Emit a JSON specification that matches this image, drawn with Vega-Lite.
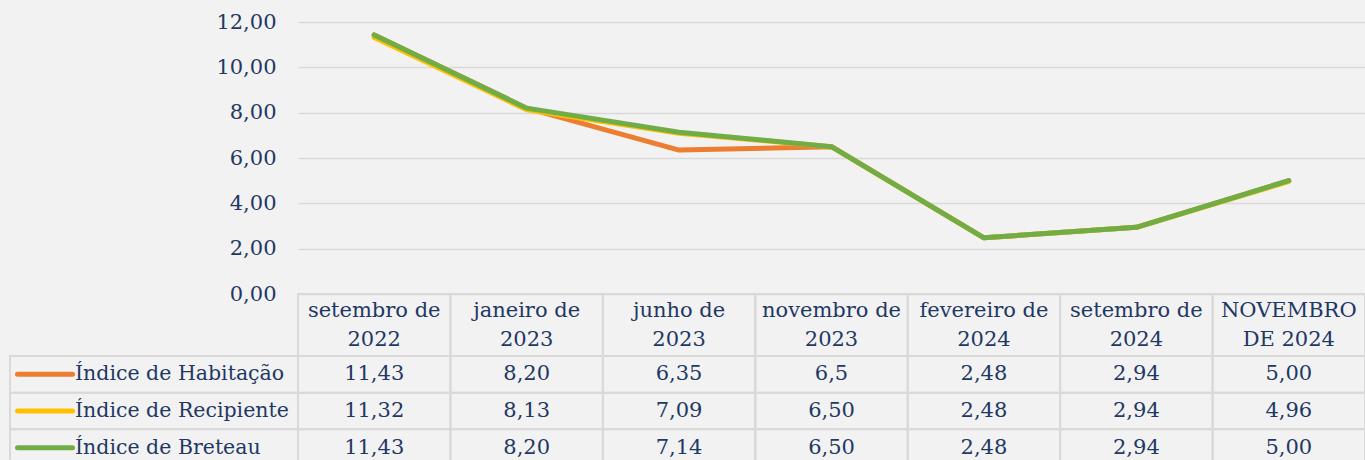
{
  "$schema": "https://vega.github.io/schema/vega-lite/v6.json",
  "background": "#F2F2F2",
  "padding": {"left": 7, "top": 11, "right": 0, "bottom": 0},
  "config": {"view": {"stroke": null}, "font": "DejaVu Serif"},
  "datasets": {
    "rows": [
      {"month": "setembro de\n2022", "series": "Índice de Habitação", "value": 11.43, "label": "11,43"},
      {"month": "janeiro de\n2023", "series": "Índice de Habitação", "value": 8.20, "label": "8,20"},
      {"month": "junho de\n2023", "series": "Índice de Habitação", "value": 6.35, "label": "6,35"},
      {"month": "novembro de\n2023", "series": "Índice de Habitação", "value": 6.5, "label": "6,5"},
      {"month": "fevereiro de\n2024", "series": "Índice de Habitação", "value": 2.48, "label": "2,48"},
      {"month": "setembro de\n2024", "series": "Índice de Habitação", "value": 2.94, "label": "2,94"},
      {"month": "NOVEMBRO\nDE 2024", "series": "Índice de Habitação", "value": 5.00, "label": "5,00"},
      {"month": "setembro de\n2022", "series": "Índice de Recipiente", "value": 11.32, "label": "11,32"},
      {"month": "janeiro de\n2023", "series": "Índice de Recipiente", "value": 8.13, "label": "8,13"},
      {"month": "junho de\n2023", "series": "Índice de Recipiente", "value": 7.09, "label": "7,09"},
      {"month": "novembro de\n2023", "series": "Índice de Recipiente", "value": 6.50, "label": "6,50"},
      {"month": "fevereiro de\n2024", "series": "Índice de Recipiente", "value": 2.48, "label": "2,48"},
      {"month": "setembro de\n2024", "series": "Índice de Recipiente", "value": 2.94, "label": "2,94"},
      {"month": "NOVEMBRO\nDE 2024", "series": "Índice de Recipiente", "value": 4.96, "label": "4,96"},
      {"month": "setembro de\n2022", "series": "Índice de Breteau", "value": 11.43, "label": "11,43"},
      {"month": "janeiro de\n2023", "series": "Índice de Breteau", "value": 8.20, "label": "8,20"},
      {"month": "junho de\n2023", "series": "Índice de Breteau", "value": 7.14, "label": "7,14"},
      {"month": "novembro de\n2023", "series": "Índice de Breteau", "value": 6.50, "label": "6,50"},
      {"month": "fevereiro de\n2024", "series": "Índice de Breteau", "value": 2.48, "label": "2,48"},
      {"month": "setembro de\n2024", "series": "Índice de Breteau", "value": 2.94, "label": "2,94"},
      {"month": "NOVEMBRO\nDE 2024", "series": "Índice de Breteau", "value": 5.00, "label": "5,00"}
    ]
  },
  "columns": 2,
  "spacing": 0,
  "bounds": "flush",
  "concat": [
    {
      "width": 288,
      "height": 272,
      "data": {"values": [{}]},
      "mark": {"type": "text"},
      "encoding": {"text": {"value": ""}}
    },
    {
      "width": 1067,
      "height": 272,
      "data": {"name": "rows"},
      "mark": {"type": "line", "strokeWidth": 5, "strokeCap": "round", "strokeJoin": "round"},
      "encoding": {
        "x": {"field": "month", "type": "nominal", "sort": ["setembro de\n2022", "janeiro de\n2023", "junho de\n2023", "novembro de\n2023", "fevereiro de\n2024", "setembro de\n2024", "NOVEMBRO\nDE 2024"], "scale": {"type": "point", "padding": 0.5}, "axis": null},
        "y": {
          "field": "value", "type": "quantitative",
          "scale": {"domain": [0, 12], "nice": false},
          "axis": {"values": [0, 2, 4, 6, 8, 10, 12], "labelExpr": "replace(format(datum.value, '.2f'), '.', ',')", "domain": false, "ticks": false, "gridColor": "#D9D9D9", "gridWidth": 1.5, "labelFontSize": 21, "labelColor": "#1F3864", "labelPadding": 22, "title": null}
        },
        "color": {"field": "series", "type": "nominal", "scale": {"domain": ["Índice de Habitação", "Índice de Recipiente", "Índice de Breteau"], "range": ["#ED7D31", "#FFC000", "#70AD47"]}, "legend": null}
      }
    },
    {
      "width": 288,
      "height": 62,
      "data": {"values": [{}]},
      "mark": {"type": "text"},
      "encoding": {"text": {"value": ""}}
    },
    {
      "width": 1067,
      "height": 62,
      "data": {"name": "rows"},
      "transform": [{"aggregate": [{"op": "count", "as": "n"}], "groupby": ["month"]}],
      "encoding": {
        "x": {"field": "month", "type": "nominal", "sort": ["setembro de\n2022", "janeiro de\n2023", "junho de\n2023", "novembro de\n2023", "fevereiro de\n2024", "setembro de\n2024", "NOVEMBRO\nDE 2024"], "scale": {"paddingInner": 0, "paddingOuter": 0}, "axis": null}
      },
      "layer": [
        {"mark": {"type": "rect", "fill": "transparent", "stroke": "#D9D9D9", "strokeWidth": 2}},
        {
          "mark": {"type": "text", "lineBreak": "\n", "lineHeight": 29, "dy": -14, "fontSize": 21, "color": "#1F3864"},
          "encoding": {"text": {"field": "month"}}
        }
      ]
    },
    {
      "width": 288,
      "height": 110,
      "data": {"name": "rows"},
      "transform": [{"aggregate": [{"op": "count", "as": "n"}], "groupby": ["series"]}],
      "encoding": {
        "y": {"field": "series", "type": "nominal", "sort": ["Índice de Habitação", "Índice de Recipiente", "Índice de Breteau"], "scale": {"paddingInner": 0, "paddingOuter": 0}, "axis": null}
      },
      "layer": [
        {"mark": {"type": "rect", "fill": "transparent", "stroke": "#D9D9D9", "strokeWidth": 2}},
        {
          "mark": {"type": "point", "shape": "M-1,0L1,0", "size": 3025, "filled": false, "strokeWidth": 5, "strokeCap": "round", "opacity": 1, "xOffset": -109},
          "encoding": {
            "color": {"field": "series", "type": "nominal", "scale": {"domain": ["Índice de Habitação", "Índice de Recipiente", "Índice de Breteau"], "range": ["#ED7D31", "#FFC000", "#70AD47"]}, "legend": null}
          }
        },
        {
          "mark": {"type": "text", "align": "left", "dx": -79, "fontSize": 20.5, "color": "#1F3864"},
          "encoding": {"text": {"field": "series"}}
        }
      ]
    },
    {
      "width": 1067,
      "height": 110,
      "data": {"name": "rows"},
      "encoding": {
        "x": {"field": "month", "type": "nominal", "sort": ["setembro de\n2022", "janeiro de\n2023", "junho de\n2023", "novembro de\n2023", "fevereiro de\n2024", "setembro de\n2024", "NOVEMBRO\nDE 2024"], "scale": {"paddingInner": 0, "paddingOuter": 0}, "axis": null},
        "y": {"field": "series", "type": "nominal", "sort": ["Índice de Habitação", "Índice de Recipiente", "Índice de Breteau"], "scale": {"paddingInner": 0, "paddingOuter": 0}, "axis": null}
      },
      "layer": [
        {"mark": {"type": "rect", "fill": "transparent", "stroke": "#D9D9D9", "strokeWidth": 2}},
        {
          "mark": {"type": "text", "fontSize": 21, "color": "#1F3864"},
          "encoding": {"text": {"field": "label"}}
        }
      ]
    }
  ]
}
